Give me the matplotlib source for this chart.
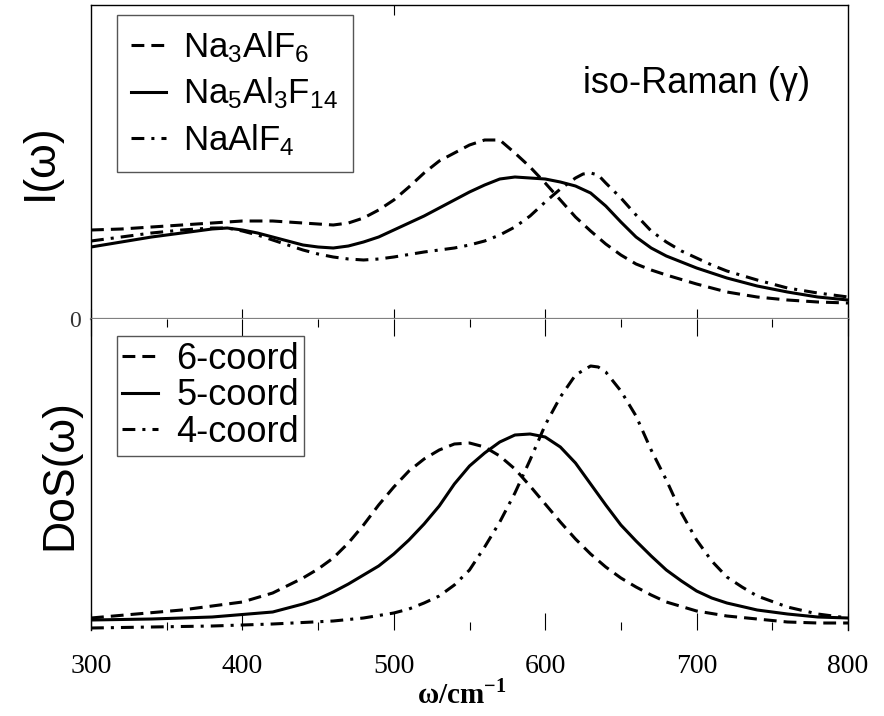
import matplotlib
matplotlib.use("Agg")
import matplotlib.pyplot as plt
from matplotlib.ticker import MultipleLocator, FixedLocator

plt.rcParams['font.family'] = ['Liberation Sans', 'DejaVu Sans']
plt.rcParams['mathtext.fontset'] = 'custom'
plt.rcParams['mathtext.rm'] = 'Liberation Sans'
plt.rcParams['mathtext.it'] = 'Liberation Sans:italic'
plt.rcParams['mathtext.bf'] = 'Liberation Serif:bold'

# ---- upper panel: iso-Raman intensity (arbitrary units, 0 .. 314) ----
w_na3 = [300, 320, 340, 360, 380, 400, 420, 440, 460, 470, 480, 490, 500,
         510, 520, 530, 540, 550, 560, 570, 580, 590, 600, 610, 620, 630,
         640, 650, 660, 670, 680, 700, 720, 740, 760, 780, 800]
i_na3 = [89, 90, 92, 94, 96, 98, 98, 96, 94, 96, 101, 109, 119,
         132, 146, 158, 166, 174, 179, 179, 166, 152, 136, 119, 102, 88,
         75, 64, 55, 49, 44, 35, 27, 22, 19, 17, 16]

w_na5 = [300, 320, 340, 360, 370, 380, 390, 400, 410, 420, 430, 440, 450,
         460, 470, 480, 490, 500, 510, 520, 530, 540, 550, 560, 570, 580,
         590, 600, 610, 620, 630, 640, 650, 660, 670, 680, 690, 700, 720,
         740, 760, 780, 800]
i_na5 = [72, 77, 82, 86, 88, 90, 91, 89, 86, 82, 78, 74, 72,
         71, 73, 77, 82, 89, 96, 103, 111, 119, 127, 134, 140, 142,
         141, 140, 137, 133, 126, 113, 97, 82, 71, 63, 57, 51, 41,
         33, 27, 22, 19]

w_na1 = [300, 320, 340, 360, 380, 390, 400, 410, 420, 430, 440, 450, 460,
         470, 480, 490, 500, 520, 540, 550, 560, 570, 580, 590, 600, 610,
         620, 625, 630, 635, 640, 650, 660, 670, 680, 690, 700, 710, 720,
         740, 760, 780, 800]
i_na1 = [78, 82, 86, 89, 91, 91, 88, 84, 79, 74, 69, 65, 62,
         60, 59, 60, 62, 67, 71, 74, 78, 84, 92, 103, 117, 130,
         141, 145, 146, 144, 136, 121, 104, 88, 77, 68, 61, 54, 48,
         39, 31, 26, 22]

# ---- lower panel: density of states (arbitrary units, 0 .. 311) ----
w_c6 = [300, 330, 360, 400, 420, 440, 450, 460, 470, 480, 490, 500, 510,
        520, 530, 540, 550, 560, 570, 580, 590, 600, 610, 620, 630, 640,
        650, 660, 670, 680, 700, 720, 740, 760, 780, 800]
d_c6 = [12, 16, 20, 28, 37, 52, 61, 72, 87, 105, 125, 143, 159,
        171, 180, 186, 187, 183, 174, 161, 144, 126, 108, 91, 76, 63,
        52, 43, 35, 28, 19, 14, 11, 8, 7, 7]

w_c5 = [300, 340, 380, 420, 440, 450, 460, 470, 480, 490, 500, 510, 520,
        530, 540, 550, 560, 570, 580, 590, 600, 610, 620, 630, 640, 650,
        660, 670, 680, 690, 700, 710, 720, 740, 760, 780, 800]
d_c5 = [10, 11, 13, 18, 26, 31, 38, 46, 55, 64, 76, 90, 106,
        124, 146, 164, 177, 188, 195, 196, 193, 183, 167, 146, 125, 105,
        89, 74, 60, 49, 39, 32, 27, 20, 16, 13, 12]

w_c4 = [300, 340, 380, 420, 460, 480, 500, 510, 520, 530, 540, 550, 560,
        570, 580, 590, 600, 610, 620, 630, 635, 640, 650, 660, 670, 680,
        690, 700, 710, 720, 730, 740, 760, 780, 800]
d_c4 = [2, 3, 4, 6, 9, 12, 17, 21, 27, 34, 45, 60, 83,
        108, 137, 170, 205, 233, 255, 264, 263, 258, 239, 214, 180, 150,
        117, 90, 69, 53, 43, 34, 23, 16, 12]

lw = 2.2
dash = (4.2, 2.3)
dashdot = (4.2, 2.3, 1.0, 2.3)

fig = plt.figure(figsize=(8.84, 7.16), dpi=100)
ax1 = fig.add_axes([91 / 884, 1 - 319 / 716, 757 / 884, 314 / 716])
ax2 = fig.add_axes([91 / 884, 1 - 630 / 716, 757 / 884, 311 / 716])

ax1.plot(w_na3, i_na3, color='black', lw=lw, dashes=dash, label=r'Na$_3$AlF$_6$')
ax1.plot(w_na5, i_na5, color='black', lw=lw, label=r'Na$_5$Al$_3$F$_{14}$')
ax1.plot(w_na1, i_na1, color='black', lw=lw, dashes=dashdot, label=r'NaAlF$_4$')

ax2.plot(w_c6, d_c6, color='black', lw=lw, dashes=dash, label='6-coord')
ax2.plot(w_c5, d_c5, color='black', lw=lw, label='5-coord')
ax2.plot(w_c4, d_c4, color='black', lw=lw, dashes=dashdot, label='4-coord')

for ax in (ax1, ax2):
    ax.set_xlim(300, 800)
    ax.xaxis.set_major_locator(MultipleLocator(100))
    for s in ('left', 'right', 'top'):
        ax.spines[s].set_linewidth(1.0)

ax1.set_ylim(0, 314)
ax2.set_ylim(0, 311)

# upper panel ticks
ax1.spines['bottom'].set_color('#808080')
ax1.spines['bottom'].set_linewidth(1.6)
ax1.tick_params(axis='x', which='major', direction='in', length=7, width=0.8,
                labelbottom=False, top=False)
ax1.set_yticks([0])
ax1.set_yticklabels(['0'], fontfamily='Liberation Serif', fontsize=17, color='#333333')
ax1.tick_params(axis='y', length=0, pad=7)
sec = ax1.secondary_xaxis('top')
sec.xaxis.set_major_locator(FixedLocator([500]))
sec.tick_params(direction='in', length=7, width=0.8, labeltop=False)
sec.spines['top'].set_visible(False)

# lower panel ticks
ax2.spines['top'].set_visible(False)
ax2.spines['bottom'].set_visible(False)
ax2.xaxis.set_minor_locator(MultipleLocator(50))
ax2.tick_params(axis='x', which='major', direction='in', length=12, width=0.8,
                top=True, bottom=True, pad=17)
ax2.tick_params(axis='x', which='minor', direction='in', length=6, width=0.8,
                top=True, bottom=True)
ax2.set_yticks([])
for lab in ax2.get_xticklabels():
    lab.set_fontfamily('Liberation Serif')
    lab.set_fontsize(20)

ax1.set_ylabel('I(ω)', fontsize=32)
ax1.yaxis.set_label_coords(-0.040, 0.5)
ax2.set_ylabel('DoS(ω)', fontsize=32)
ax2.yaxis.set_label_coords(-0.014, 0.5)

ax2.set_xlabel(r'ω/cm$^{\mathbf{-1}}$', fontfamily='Liberation Serif',
               fontweight='bold', fontsize=21)
ax2.xaxis.set_label_coords(0.49, -0.16)

ax1.text(0.65, 0.72, 'iso-Raman (γ)', transform=ax1.transAxes,
         fontsize=26, ha='left', va='baseline')

leg_kw = dict(frameon=True, fancybox=False, framealpha=1, edgecolor='#555555',
              loc='upper left', borderaxespad=0,
              handlelength=1.0, handletextpad=0.5)
l1 = ax1.legend(bbox_to_anchor=(0.034, 0.968), fontsize=25, borderpad=0.42,
                labelspacing=0.3, **leg_kw)
l2 = ax2.legend(bbox_to_anchor=(0.034, 0.945), fontsize=26, borderpad=0.15,
                labelspacing=0.05, **leg_kw)
for l in (l1, l2):
    l.get_frame().set_linewidth(1.0)

fig.savefig('out.png', dpi=100)
